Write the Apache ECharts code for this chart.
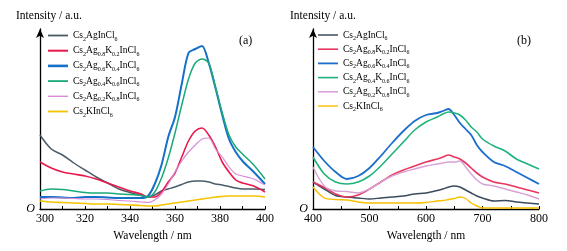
<!DOCTYPE html>
<html><head><meta charset="utf-8">
<script src="https://cdn.jsdelivr.net/npm/echarts@6/dist/echarts.min.js"></script>
<style>html,body{margin:0;padding:0;background:#fff}#c{width:567px;height:251px}</style>
</head><body><div id="c"></div>
<script>
// ---- Panel (a) data ----
var waveA = [300,305,310,315,320,325,330,335,340,345,348,351,354,357,360,363,366,369,372,375,378,381,384,387,390,395,400];
var a_x0 = [74,60,54,46,39,32,26,20,16.5,13.5,12,14,18,20,22,24.5,27,28,28,27,25,24,22.5,21,20,20,19.5];
var a_x2 = [47,41,37,35,33,30,26,22,18,15,12,12,17,27,36,52,68,78,81,74,62,47,37,29,26,23,17];
var a_x4 = [12,12,11.5,11,12,12,11.5,11,11,11,13,25,44,72,92,125,156,160,163,146,121,94,70,57,48,37,25];
var a_x6 = [18,20,19.5,18,16.5,16,16,15,14.5,13.5,12,17,31,51,76,104,130,146,150,146,122,96,74,62,55,44,30];
var a_x8 = [10,11,11,10.5,10,10,9.5,8.5,8,7,6.5,9,15,25,37,48,57,64,70,71,60,52,42,35,33,30,24];
var a_x10 = [8,7,6.5,6,5.5,5,5,4.5,4,3.5,3,3,4,5,6,7,8,9,10,11,12,12.5,13,13,13,13,12];

// ---- Panel (b) data ----
var waveB = [400,420,440,460,480,500,520,540,560,580,600,620,630,640,650,660,670,680,690,700,720,740,760,780,800];
var b_x0 = [27,20,13.5,12,11,10,11,12,13,15,16,18.5,20,22,23,22,19,16,13,11,8,8.5,7,6,5];
var b_x2 = [27,21.5,15,12,14,20,27,34,39,43,47,50,52,54,52,50,46,41,36,32,27,25,22,19,16];
var b_x4 = [62,48,37,30,33,41,53,66,78,88,94,96,98,100,94,86,80,74,64,57,47,43,37,31,25];
var b_x6 = [52,35,27,25,27,33,43,55,67,79,87,92,95,97,96,94,89,82,77,70,63,58,50,45,40];
var b_x8 = [42,23,18,17.5,16,20,27,33,37,40,43,45,46,47,47,48,42,35,29,25,23,20,17,14,10];
var b_x10 = [22,11,9.5,9,7,6,6,6,6,6,6.5,8,8.5,9.5,10.5,12,10.5,6,3,1,1,1,1,1,1];

var labels = [
  'Cs{s|2}AgInCl{s|6}',
  'Cs{s|2}Ag{s|0.8}K{s|0.2}InCl{s|6}',
  'Cs{s|2}Ag{s|0.6}K{s|0.4}InCl{s|6}',
  'Cs{s|2}Ag{s|0.4}K{s|0.6}InCl{s|6}',
  'Cs{s|2}Ag{s|0.2}K{s|0.8}InCl{s|6}',
  'Cs{s|2}KInCl{s|6}'
];

var colorsA = ['#4c5c66','#e8184b','#1470c8','#1aa97b','#d98bd8','#f5c300'];
var colorsB = ['#3c4a5e','#e8375f','#1c6ecb','#1fb37c','#d6a2d6','#f8c000'];
var widthsA = [1.5,1.6,2,1.5,1.2,1.6];
var widthsB = [1.5,1.6,1.8,1.6,1.4,1.4];

var FONT = "'Liberation Serif','DejaVu Serif',serif";
var seriesA = [a_x0,a_x2,a_x4,a_x6,a_x8,a_x10];
var seriesB = [b_x0,b_x2,b_x4,b_x6,b_x8,b_x10];
var series = [];
seriesA.forEach(function(v,k){
  series.push({name:'a'+k,type:'line',xAxisIndex:0,yAxisIndex:0,symbol:'none',smooth:0.3,
    data:waveA.map(function(w,i){return [w,v[i]];}),
    lineStyle:{color:colorsA[k],width:widthsA[k]},itemStyle:{color:colorsA[k]}});
});
seriesB.forEach(function(v,k){
  series.push({name:'b'+k,type:'line',xAxisIndex:1,yAxisIndex:1,symbol:'none',smooth:0.3,
    data:waveB.map(function(w,i){return [w,v[i]];}),
    lineStyle:{color:colorsB[k],width:widthsB[k]},itemStyle:{color:colorsB[k]}});
});

function xAxisCfg(idx,min,max,interval,first){
  return {type:'value',gridIndex:idx,min:min,max:max,interval:interval,
    name:'Wavelength / nm',nameLocation:'middle',nameGap:21,
    nameTextStyle:{fontFamily:FONT,fontSize:11.5,color:'#000'},
    axisLine:{show:true,onZero:false,lineStyle:{color:'#000',width:1.3}},
    axisTick:{show:true,inside:true,length:3,lineStyle:{color:'#000'}},
    minorTick:{show:true,splitNumber:2,length:3,lineStyle:{color:'#000'}},
    splitLine:{show:false},minorSplitLine:{show:false},
    axisLabel:{fontFamily:FONT,fontSize:12,color:'#000',margin:4,
      rich:{f:{fontFamily:FONT,fontSize:12,color:'#000',padding:[0,0,0,first]}},
      formatter:function(v){return v===min && first ? '{f|'+v+'}' : String(v);}}};
}
function yAxisCfg(idx){
  return {type:'value',gridIndex:idx,min:0,max:180,interval:180,
    axisLine:{show:true,onZero:false,symbol:['none','arrow'],symbolSize:[6,9],lineStyle:{color:'#000',width:1.3}},
    axisTick:{show:false},splitLine:{show:false},
    axisLabel:{fontFamily:FONT,fontSize:12,fontStyle:'italic',color:'#000',margin:5,
      formatter:function(v){return v===0?'O':'';}}};
}
function legendCfg(prefix,left,top,gap,textGap,widths){
  return {orient:'vertical',left:left,top:top,padding:0,itemWidth:20,itemHeight:13,itemGap:gap,itemTextGap:textGap,
    data:[0,1,2,3,4,5].map(function(k){
      var h = widths[k];
      var y0 = (13 - h) / 2;
      return {name:prefix+k, icon:'path://M0,0L0,0M0,'+y0+'H20V'+(y0+h)+'H0ZM20,13L20,13'};
    }),
    formatter:function(n){return labels[+n.slice(1)];},
    textStyle:{fontFamily:FONT,fontSize:9.5,color:'#000',lineHeight:13,
      rich:{s:{fontFamily:FONT,fontSize:6,lineHeight:6,verticalAlign:'bottom',color:'#000'}}}};
}

var chart = echarts.init(document.getElementById('c'),null,{renderer:'canvas'});
chart.setOption({
  animation:false,
  backgroundColor:'#fff',
  grid:[{left:40,right:302,top:29,bottom:42},{left:313,right:28,top:29,bottom:42}],
  xAxis:[xAxisCfg(0,300,400,20,10),xAxisCfg(1,400,800,100,0)],
  yAxis:[yAxisCfg(0),yAxisCfg(1)],
  legend:[legendCfg('a',48,29,2.2,4,[1.8,2,2.6,1.8,1.4,1.8]),legendCfg('b',318,28.5,1.2,2,[1.5,1.6,1.8,1.6,1.6,1.4])],
  graphic:[
    {type:'text',left:16,top:10,style:{text:'Intensity / a.u.',font:'11.5px '+FONT,fill:'#000'}},
    {type:'text',left:290,top:10,style:{text:'Intensity / a.u.',font:'11.5px '+FONT,fill:'#000'}},
    {type:'text',left:239,top:35,style:{text:'(a)',font:'12px '+FONT,fill:'#000'}},
    {type:'text',left:517,top:35,style:{text:'(b)',font:'12px '+FONT,fill:'#000'}}
  ],
  series:series
});
</script></body></html>
